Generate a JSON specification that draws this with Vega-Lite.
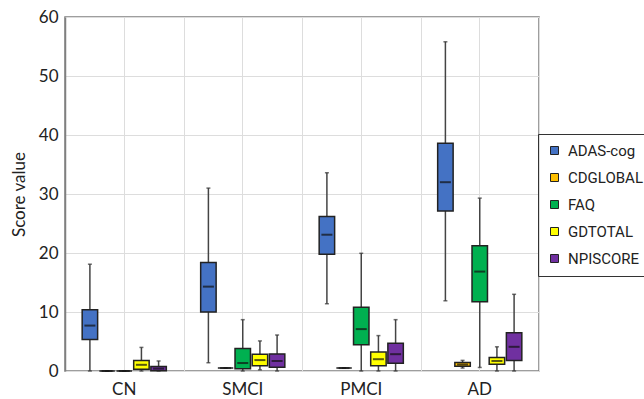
{
  "$schema": "https://vega.github.io/schema/vega-lite/v6.json",
  "width": 474,
  "height": 354,
  "padding": {"left": 10, "top": 8, "right": 0, "bottom": 0},
  "background": "white",
  "config": {
    "font": "Lato",
    "view": {"stroke": "#7f7f7f", "strokeWidth": 1.5},
    "axis": {"labelFont": "Lato", "titleFont": "Lato", "labelColor": "#222", "titleColor": "#222"}
  },
  "data": {
    "values": [
      {"group": "CN", "measure": "ADAS-cog", "min": 0, "q1": 5.35, "median": 7.7, "q3": 10.4, "max": 18.1},
      {"group": "CN", "measure": "CDGLOBAL", "min": 0, "q1": 0, "median": 0, "q3": 0, "max": 0},
      {"group": "CN", "measure": "FAQ", "min": 0, "q1": 0, "median": 0, "q3": 0, "max": 0},
      {"group": "CN", "measure": "GDTOTAL", "min": 0, "q1": 0.3, "median": 1.05, "q3": 1.8, "max": 4.0},
      {"group": "CN", "measure": "NPISCORE", "min": 0, "q1": 0.05, "median": 0.4, "q3": 0.75, "max": 1.7},
      {"group": "SMCI", "measure": "ADAS-cog", "min": 1.4, "q1": 10.0, "median": 14.3, "q3": 18.4, "max": 31.0},
      {"group": "SMCI", "measure": "CDGLOBAL", "min": 0.5, "q1": 0.5, "median": 0.5, "q3": 0.5, "max": 0.5},
      {"group": "SMCI", "measure": "FAQ", "min": 0, "q1": 0.4, "median": 1.35, "q3": 3.8, "max": 8.7},
      {"group": "SMCI", "measure": "GDTOTAL", "min": 0.2, "q1": 0.9, "median": 1.85, "q3": 2.85, "max": 5.1},
      {"group": "SMCI", "measure": "NPISCORE", "min": 0, "q1": 0.65, "median": 1.7, "q3": 2.9, "max": 6.1},
      {"group": "PMCI", "measure": "ADAS-cog", "min": 11.4, "q1": 19.8, "median": 23.1, "q3": 26.2, "max": 33.6},
      {"group": "PMCI", "measure": "CDGLOBAL", "min": 0.5, "q1": 0.5, "median": 0.5, "q3": 0.5, "max": 0.5},
      {"group": "PMCI", "measure": "FAQ", "min": 0, "q1": 4.45, "median": 7.1, "q3": 10.8, "max": 19.95},
      {"group": "PMCI", "measure": "GDTOTAL", "min": 0, "q1": 0.9, "median": 2.0, "q3": 3.2, "max": 6.0},
      {"group": "PMCI", "measure": "NPISCORE", "min": 0, "q1": 1.3, "median": 2.85, "q3": 4.7, "max": 8.7},
      {"group": "AD", "measure": "ADAS-cog", "min": 11.9, "q1": 27.1, "median": 32.0, "q3": 38.6, "max": 55.8},
      {"group": "AD", "measure": "CDGLOBAL", "min": 0.5, "q1": 0.8, "median": 1.1, "q3": 1.45, "max": 1.8},
      {"group": "AD", "measure": "FAQ", "min": 0.6, "q1": 11.75, "median": 16.85, "q3": 21.25, "max": 29.3},
      {"group": "AD", "measure": "GDTOTAL", "min": 0, "q1": 1.15, "median": 1.7, "q3": 2.3, "max": 4.1},
      {"group": "AD", "measure": "NPISCORE", "min": 0, "q1": 1.8, "median": 4.1, "q3": 6.5, "max": 13.0}
    ]
  },
  "encoding": {
    "xOffset": {
      "field": "measure",
      "type": "nominal",
      "sort": ["ADAS-cog", "CDGLOBAL", "FAQ", "GDTOTAL", "NPISCORE"],
      "scale": {"paddingInner": 0.1, "paddingOuter": 2.49}
    }
  },
  "layer": [
    {
      "mark": {"type": "rule", "color": "#444444", "strokeWidth": 1.5},
      "encoding": {
        "x": {
          "field": "group",
          "type": "nominal",
          "sort": ["CN", "SMCI", "PMCI", "AD"],
          "scale": {"paddingInner": 0, "paddingOuter": 0},
          "axis": {
            "title": null,
            "orient": "bottom",
            "labels": false,
            "ticks": false,
            "domain": false,
            "grid": true,
            "tickBand": "extent",
            "gridColor": "#dddddd",
            "gridWidth": 1
          }
        },
        "y": {
          "field": "min",
          "type": "quantitative",
          "scale": {"domain": [0, 60], "nice": false},
          "axis": {
            "title": "Score value",
            "titleFontSize": 17,
            "titleFontWeight": "normal",
            "titlePadding": 10,
            "values": [0, 10, 20, 30, 40, 50, 60],
            "labelFontSize": 17,
            "labelPadding": 7,
            "ticks": false,
            "domainColor": "#7f7f7f",
            "domainWidth": 1.5,
            "gridColor": "#dddddd",
            "gridWidth": 1
          }
        },
        "y2": {"field": "max"}
      }
    },
    {
      "mark": {"type": "tick", "color": "#333333", "thickness": 1.5, "size": 4},
      "encoding": {
        "x": {
          "field": "group",
          "type": "nominal",
          "sort": ["CN", "SMCI", "PMCI", "AD"],
          "axis": {
            "title": null,
            "orient": "bottom",
            "labelAngle": 0,
            "labelFontSize": 17,
            "labelFontWeight": "normal",
            "labelPadding": 10,
            "ticks": false,
            "domain": false,
            "grid": true,
            "gridColor": "#dddddd",
            "gridWidth": 1
          }
        },
        "y": {"field": "max", "type": "quantitative"}
      }
    },
    {
      "mark": {"type": "tick", "color": "#333333", "thickness": 1.5, "size": 4},
      "encoding": {
        "x": {"field": "group", "type": "nominal", "sort": ["CN", "SMCI", "PMCI", "AD"], "axis": null},
        "y": {"field": "min", "type": "quantitative"}
      }
    },
    {
      "mark": {"type": "bar", "stroke": "#222222", "strokeWidth": 1.5},
      "encoding": {
        "x": {"field": "group", "type": "nominal", "sort": ["CN", "SMCI", "PMCI", "AD"], "axis": null},
        "y": {"field": "q1", "type": "quantitative"},
        "y2": {"field": "q3"},
        "fill": {
          "field": "measure",
          "type": "nominal",
          "sort": ["ADAS-cog", "CDGLOBAL", "FAQ", "GDTOTAL", "NPISCORE"],
          "scale": {
            "domain": ["ADAS-cog", "CDGLOBAL", "FAQ", "GDTOTAL", "NPISCORE"],
            "range": ["#4472C4", "#FFC000", "#00B050", "#FFFF00", "#7030A0"]
          },
          "legend": {
            "title": null,
            "orient": "none",
            "legendX": 473,
            "legendY": 117,
            "strokeColor": "#333333",
            "padding": 9,
            "symbolType": "square",
            "symbolSize": 64,
            "symbolStrokeColor": "#222222",
            "symbolStrokeWidth": 1,
            "labelFont": "Roboto",
            "labelFontSize": 15,
            "labelColor": "#222",
            "labelOffset": 6,
            "rowPadding": 11,
            "labelLimit": 200
          }
        }
      }
    },
    {
      "mark": {"type": "tick", "color": "#111111", "thickness": 2, "size": 11},
      "encoding": {
        "x": {"field": "group", "type": "nominal", "sort": ["CN", "SMCI", "PMCI", "AD"], "axis": null},
        "y": {"field": "median", "type": "quantitative"}
      }
    }
  ],
  "resolve": {"axis": {"x": "independent"}}
}
